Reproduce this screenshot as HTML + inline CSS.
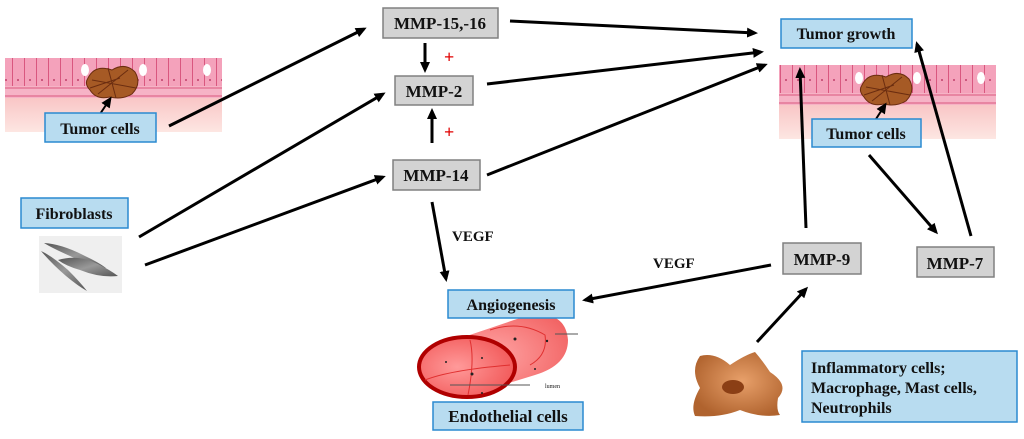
<!DOCTYPE html>
<html><head><meta charset="utf-8"><style>
html,body{margin:0;padding:0;background:#fff;width:1024px;height:439px;overflow:hidden}
text{font-family:"Liberation Serif",serif;font-weight:bold;fill:#111}
</style></head><body>
<svg width="1024" height="439" viewBox="0 0 1024 439" xmlns="http://www.w3.org/2000/svg">
<defs>
<marker id="a" markerWidth="11" markerHeight="10" refX="8" refY="5" orient="auto" markerUnits="userSpaceOnUse"><path d="M0,0 L11,5 L0,10 Z" fill="#000"/></marker>
<linearGradient id="lam" x1="0" y1="0" x2="0" y2="1"><stop offset="0" stop-color="#f9c6c6"/><stop offset="1" stop-color="#fde6e2"/></linearGradient>
<pattern id="cells" width="12" height="30" patternUnits="userSpaceOnUse"><rect width="12" height="30" fill="#f4a2bb"/><line x1="0.5" y1="0" x2="0.5" y2="30" stroke="#d9577f" stroke-width="1"/><circle cx="6" cy="20" r="1" fill="#c0406a"/></pattern>
<radialGradient id="mac" cx="0.55" cy="0.45" r="0.6"><stop offset="0" stop-color="#e8a06a"/><stop offset="1" stop-color="#b0632e"/></radialGradient>
<radialGradient id="ves" cx="0.4" cy="0.5" r="0.7"><stop offset="0" stop-color="#ff9a9a"/><stop offset="1" stop-color="#f05050"/></radialGradient>
<linearGradient id="fib" x1="0" y1="0" x2="1" y2="1"><stop offset="0" stop-color="#555"/><stop offset="0.5" stop-color="#999"/><stop offset="1" stop-color="#555"/></linearGradient>
</defs>

<!-- left tissue -->
<g>
<rect x="5" y="98" width="217" height="34" fill="url(#lam)"/>
<rect x="5" y="58" width="217" height="30" fill="url(#cells)"/>
<rect x="5" y="86" width="217" height="12" fill="#f6b3c6"/>
<line x1="5" y1="88" x2="222" y2="88" stroke="#d9577f"/><line x1="5" y1="96" x2="222" y2="96" stroke="#d9577f"/>
<ellipse cx="85" cy="70" rx="4" ry="6" fill="#fff"/><ellipse cx="143" cy="70" rx="4" ry="6" fill="#fff"/><ellipse cx="207" cy="70" rx="4" ry="6" fill="#fff"/>
<path d="M88,78 Q95,64 112,70 Q125,62 135,72 Q142,84 132,94 Q122,100 110,97 Q96,100 90,90 Q84,84 88,78Z" fill="#a65a25" stroke="#6b2d10"/>
<path d="M92,80 L136,88 M98,94 L128,70 M108,68 L116,98 M90,88 L120,78" stroke="#6b2d10" stroke-width="1"/>
<line x1="100" y1="114" x2="110" y2="99" stroke="#000" stroke-width="2" marker-end="url(#a)"/>
</g>
<!-- right tissue -->
<g>
<rect x="779" y="105" width="217" height="34" fill="url(#lam)"/>
<rect x="779" y="65" width="217" height="30" fill="url(#cells)"/>
<rect x="779" y="93" width="217" height="12" fill="#f6b3c6"/>
<line x1="779" y1="95" x2="996" y2="95" stroke="#d9577f"/><line x1="779" y1="103" x2="996" y2="103" stroke="#d9577f"/>
<ellipse cx="859" cy="78" rx="4" ry="6" fill="#fff"/><ellipse cx="917" cy="78" rx="4" ry="6" fill="#fff"/><ellipse cx="981" cy="78" rx="4" ry="6" fill="#fff"/>
<path d="M862,85 Q869,71 886,77 Q899,69 909,79 Q916,91 906,101 Q896,107 884,104 Q870,107 864,97 Q858,91 862,85Z" fill="#a65a25" stroke="#6b2d10"/>
<path d="M866,87 L910,95 M872,101 L902,77 M882,75 L890,105 M864,95 L894,85" stroke="#6b2d10" stroke-width="1"/>
<line x1="876" y1="119" x2="885" y2="105" stroke="#000" stroke-width="2" marker-end="url(#a)"/>
</g>

<!-- fibroblasts image -->
<rect x="39" y="236" width="83" height="57" fill="#efefef"/>
<path d="M44,243 Q62,244 85,256 Q98,262 106,268 Q90,266 70,256 Q52,248 44,243Z" fill="url(#fib)"/>
<path d="M41,251 Q52,264 66,276 Q78,286 87,291 Q80,282 68,270 Q52,256 41,251Z" fill="url(#fib)"/>
<path d="M58,260 Q78,254 98,264 Q110,270 118,276 Q100,278 80,270 Q66,266 58,260Z" fill="url(#fib)"/>

<!-- vessel -->
<path d="M440,345 L520,318 Q565,306 568,340 Q568,365 535,375 L470,395 Z" fill="url(#ves)" opacity="0.9"/>
<ellipse cx="467" cy="367" rx="48" ry="30" fill="url(#ves)" stroke="#b00000" stroke-width="4"/>
<path d="M470,340 Q475,360 468,395 M425,380 Q450,370 510,365 M490,330 Q520,320 545,335 Q548,355 530,365" stroke="#e03030" fill="none" stroke-width="1"/>
<line x1="450" y1="385" x2="530" y2="385" stroke="#555"/><text x="545" y="388" style="font-size:6px;font-weight:normal">lumen</text>
<line x1="555" y1="334" x2="578" y2="334" stroke="#555"/>
<circle cx="472" cy="374" r="1.5" fill="#222"/><circle cx="515" cy="339" r="1.5" fill="#222"/><circle cx="547" cy="341" r="1.2" fill="#222"/><circle cx="446" cy="362" r="1" fill="#222"/><circle cx="482" cy="358" r="1" fill="#222"/><circle cx="535" cy="369" r="1" fill="#222"/><circle cx="482" cy="393" r="1" fill="#222"/>

<!-- macrophage -->
<path d="M700,356 Q715,352 730,365 Q745,355 755,352 Q762,360 770,372 Q790,385 778,398 Q776,410 780,415 Q760,418 740,410 Q720,418 695,416 Q690,405 700,388 Q690,370 700,356Z" fill="url(#mac)"/>
<ellipse cx="733" cy="387" rx="11" ry="7" fill="#8b3f15"/>

<!-- arrows -->
<g stroke="#000" stroke-width="3" fill="none" marker-end="url(#a)">
<line x1="169" y1="126" x2="364" y2="29"/>
<line x1="139" y1="237" x2="383" y2="94"/>
<line x1="145" y1="265" x2="383" y2="177"/>
<line x1="425" y1="43" x2="425" y2="70"/>
<line x1="432" y1="143" x2="432" y2="111"/>
<line x1="432" y1="202" x2="446" y2="279"/>
<line x1="510" y1="21" x2="755" y2="33"/>
<line x1="487" y1="84" x2="761" y2="52"/>
<line x1="487" y1="175" x2="765" y2="65"/>
<line x1="806" y1="228" x2="800" y2="70"/>
<line x1="971" y1="236" x2="917" y2="44"/>
<line x1="869" y1="155" x2="936" y2="232"/>
<line x1="771" y1="265" x2="585" y2="300"/>
<line x1="757" y1="342" x2="806" y2="289"/>
</g>

<!-- plus signs -->
<text x="444" y="63" style="font-size:18px;fill:#e00000">+</text>
<text x="444" y="138" style="font-size:18px;fill:#e00000">+</text>
<text x="452" y="241" style="font-size:15px">VEGF</text>
<text x="653" y="268" style="font-size:15px">VEGF</text>

<!-- gray boxes -->
<g fill="#d3d3d3" stroke="#808080" stroke-width="1.5">
<rect x="383" y="8" width="115" height="30"/>
<rect x="395" y="76" width="78" height="29"/>
<rect x="393" y="160" width="87" height="30"/>
<rect x="783" y="243" width="78" height="31"/>
<rect x="917" y="247" width="77" height="30"/>
</g>
<g style="font-size:17px" text-anchor="middle">
<text x="440" y="29">MMP-15,-16</text>
<text x="434" y="97">MMP-2</text>
<text x="436" y="181">MMP-14</text>
<text x="822" y="265">MMP-9</text>
<text x="955" y="269">MMP-7</text>
</g>

<!-- blue boxes -->
<g fill="#b8dcf0" stroke="#2a8ad0" stroke-width="1.5">
<rect x="45" y="113" width="111" height="29"/>
<rect x="21" y="198" width="107" height="30"/>
<rect x="781" y="19" width="131" height="29"/>
<rect x="812" y="119" width="109" height="28"/>
<rect x="448" y="290" width="126" height="28"/>
<rect x="433" y="402" width="150" height="28"/>
<rect x="802" y="351" width="215" height="71"/>
</g>
<g style="font-size:16px" text-anchor="middle">
<text x="100" y="134">Tumor cells</text>
<text x="74" y="219">Fibroblasts</text>
<text x="846" y="39">Tumor growth</text>
<text x="866" y="139">Tumor cells</text>
<text x="511" y="310">Angiogenesis</text>
<text x="508" y="422" style="font-size:17px">Endothelial cells</text>
</g>
<g style="font-size:16px">
<text x="811" y="373">Inflammatory cells;</text>
<text x="811" y="393">Macrophage, Mast cells,</text>
<text x="811" y="413">Neutrophils</text>
</g>
</svg>
</body></html>
